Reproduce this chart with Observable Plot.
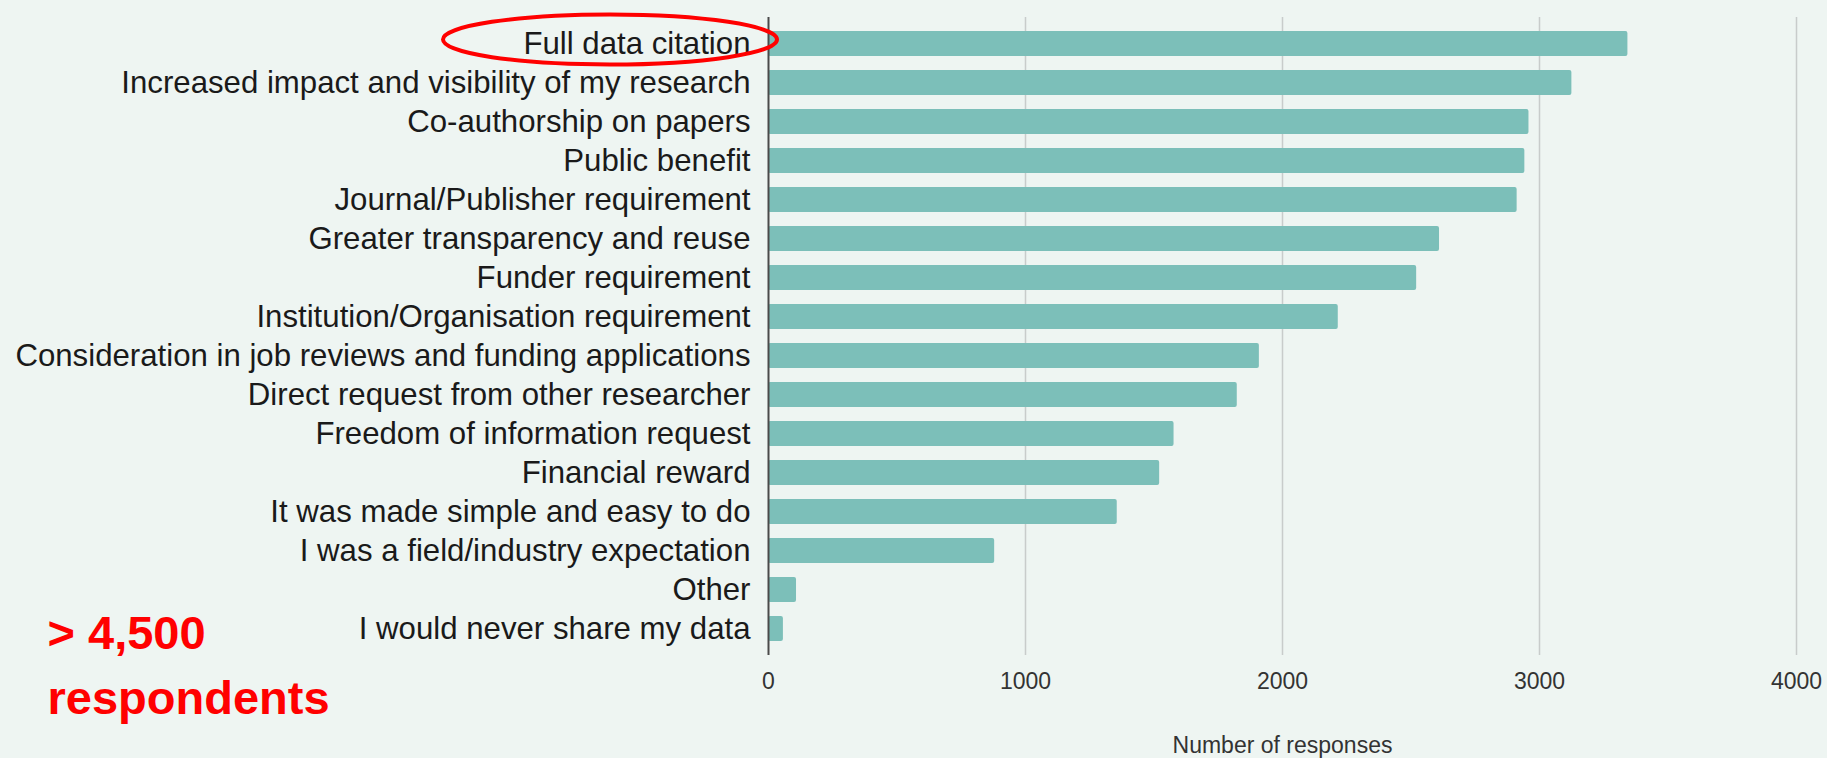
<!DOCTYPE html>
<html><head><meta charset="utf-8">
<script src="https://cdn.jsdelivr.net/npm/d3@7"></script>
<script src="https://cdn.jsdelivr.net/npm/@observablehq/plot@0.6"></script>
<style>
html,body{margin:0;padding:0;background:#eef5f2;}
#chart{position:relative;width:1827px;height:758px;overflow:hidden;background:#eef5f2;}
svg{display:block;}
</style></head><body><div id="chart"></div>
<script>
const categories = [
  "Full data citation",
  "Increased impact and visibility of my research",
  "Co-authorship on papers",
  "Public benefit",
  "Journal/Publisher requirement",
  "Greater transparency and reuse",
  "Funder requirement",
  "Institution/Organisation requirement",
  "Consideration in job reviews and funding applications",
  "Direct request from other researcher",
  "Freedom of information request",
  "Financial reward",
  "It was made simple and easy to do",
  "I was a field/industry expectation",
  "Other",
  "I would never share my data"
];
const responses = [3344, 3126, 2959, 2943, 2913, 2611, 2522, 2217, 1910, 1824, 1578, 1522, 1357, 880, 109, 58];
const xTicks = [0, 1000, 2000, 3000, 4000];
const xLabel = "Number of responses";
const noteText = "> 4,500\nrespondents";
const highlighted = "Full data citation";

const data = categories.map((c, i) => ({category: c, value: responses[i]}));

const W = 1827, H = 758;
const chart = Plot.plot({
  width: W, height: H,
  marginLeft: 768, marginRight: 31, marginTop: 17, marginBottom: 103,
  style: {background: "transparent", fontFamily: "'Liberation Sans', Arial, sans-serif", overflow: "visible"},
  x: {domain: [0, 4000], ticks: xTicks},
  y: {domain: categories, paddingInner: 0.36, paddingOuter: 0.36, round: false},
  marks: [
    Plot.gridX(xTicks.filter(d => d > 0), {stroke: "#c8cccb", strokeOpacity: 1, strokeWidth: 1.5}),
    Plot.barX(data, {x: "value", y: "category", fill: "#7cbfb9", rx: 2}),
    Plot.ruleX([0], {stroke: "#4a4a4a", strokeWidth: 2}),
    Plot.axisX(xTicks, {tickSize: 0, tickPadding: 17, fontSize: 23, fill: "#333", label: null, tickFormat: d => String(d)}),
    Plot.axisY({tickSize: 0, tickPadding: 18, fontSize: 31.2, fill: "#1a1a1a", label: null}),
    Plot.text([xLabel], {frameAnchor: "bottom", dy: 97, fontSize: 23, fill: "#333", lineAnchor: "bottom"}),
    Plot.text([noteText], {frameAnchor: "bottom-left", dx: -721, dy: 58, textAnchor: "start", lineAnchor: "bottom",
      fontSize: 47, fontWeight: "bold", fill: "#ff0000", lineHeight: 1.38})
  ]
});
document.getElementById("chart").appendChild(chart);

// red annotation ellipse around the highlighted label, placed from the scales
const ys = chart.scale("y"), xs = chart.scale("x");
const cy = ys.apply(highlighted) + ys.bandwidth / 2 - 4;
const x0 = xs.apply(0);
d3.select(chart).append("ellipse")
  .attr("cx", x0 - 158).attr("cy", cy)
  .attr("rx", 167).attr("ry", 25)
  .attr("fill", "none").attr("stroke", "#ff0000").attr("stroke-width", 4);
</script></body></html>
